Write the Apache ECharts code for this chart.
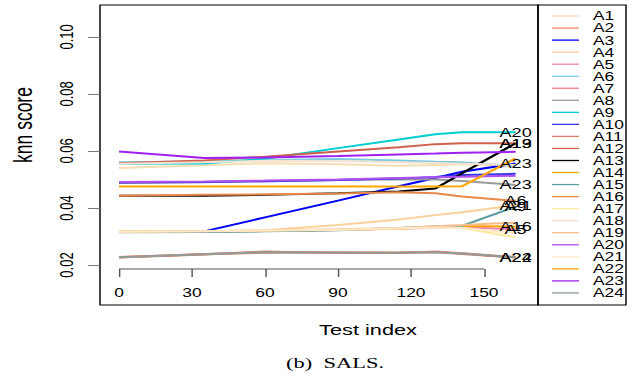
<!DOCTYPE html>
<html><head><meta charset="utf-8">
<script src="https://cdn.jsdelivr.net/npm/echarts@6/dist/echarts.min.js"></script>
<style>
html,body{margin:0;padding:0;overflow:hidden;background:#fff}
#wrap{width:634px;height:377px;overflow:hidden}
#chart{width:437.24px;height:377px;transform:scaleX(1.45);transform-origin:0 0}
</style>
</head><body><div id="wrap"><div id="chart"></div></div>
<script>
// ---- data ----
const xs = [0, 35, 60, 90, 115, 130, 141, 163];
const names = ['A1','A2','A3','A4','A5','A6','A7','A8','A9','A10','A11','A12','A13','A14','A15','A16','A17','A18','A19','A20','A21','A22','A23','A24'];
const xTicks = [0, 30, 60, 90, 120, 150];
const yTicks = [0.02, 0.04, 0.06, 0.08, 0.10];

const A1  = [0.0540, 0.0550, 0.0557, 0.0553, 0.0548, 0.0551, 0.0553, 0.0549];
const A2  = [0.0227, 0.0238, 0.0243, 0.0245, 0.0244, 0.0246, 0.0240, 0.0227];
const A3  = [0.0317, 0.0318, 0.0367, 0.0426, 0.0476, 0.0505, 0.0527, 0.0556];
const A4  = [0.0317, 0.0318, 0.0322, 0.0340, 0.0360, 0.0375, 0.0385, 0.0410];
const A5  = [0.0316, 0.0317, 0.0319, 0.0323, 0.0327, 0.0331, 0.0333, 0.0325];
const A6  = [0.0560, 0.0563, 0.0568, 0.0572, 0.0567, 0.0562, 0.0560, 0.0548];
const A7  = [0.0228, 0.0239, 0.0246, 0.0243, 0.0242, 0.0247, 0.0241, 0.0228];
const A8  = [0.0488, 0.0490, 0.0494, 0.0498, 0.0501, 0.0500, 0.0495, 0.0481];
const A9  = [0.0555, 0.0556, 0.0573, 0.0610, 0.0640, 0.0659, 0.0666, 0.0666];
const A10 = [0.0489, 0.0491, 0.0494, 0.0498, 0.0503, 0.0509, 0.0516, 0.0520];
const A11 = [0.0226, 0.0237, 0.0247, 0.0242, 0.0243, 0.0246, 0.0239, 0.0226];
const A12 = [0.0557, 0.0567, 0.0580, 0.0598, 0.0613, 0.0624, 0.0627, 0.0627];
const A13 = [0.0443, 0.0443, 0.0446, 0.0452, 0.0458, 0.0468, 0.0522, 0.0627];
const A14 = [0.0317, 0.0318, 0.0320, 0.0323, 0.0328, 0.0333, 0.0337, 0.0335];
const A15 = [0.0315, 0.0316, 0.0318, 0.0322, 0.0330, 0.0335, 0.0337, 0.0405];
const A16 = [0.0443, 0.0446, 0.0448, 0.0451, 0.0455, 0.0452, 0.0440, 0.0425];
const A17 = [0.0318, 0.0319, 0.0321, 0.0324, 0.0328, 0.0332, 0.0330, 0.0297];
const A18 = [0.0555, 0.0560, 0.0566, 0.0565, 0.0560, 0.0558, 0.0555, 0.0551];
const A19 = [0.0316, 0.0318, 0.0321, 0.0325, 0.0330, 0.0336, 0.0340, 0.0349];
const A20 = [0.0491, 0.0493, 0.0496, 0.0500, 0.0505, 0.0508, 0.0510, 0.0513];
const A21 = [0.0317, 0.0318, 0.0321, 0.0324, 0.0329, 0.0332, 0.0331, 0.0311];
const A22 = [0.0475, 0.0475, 0.0475, 0.0475, 0.0475, 0.0475, 0.0476, 0.0574];
const A23 = [0.0598, 0.0575, 0.0577, 0.0582, 0.0588, 0.0591, 0.0594, 0.0597];
const A24 = [0.0227, 0.0238, 0.0245, 0.0244, 0.0243, 0.0245, 0.0240, 0.0227];
const values = [A1,A2,A3,A4,A5,A6,A7,A8,A9,A10,A11,A12,A13,A14,A15,A16,A17,A18,A19,A20,A21,A22,A23,A24];

// text written at the end of some lines in the original figure
const endTags = ['', 'A22', 'A23', 'A21', 'A5', '', '', 'A23', 'A20', '', '', 'A19', 'A13', 'A16', 'A9', 'A6', '', '', '', '', '', '', '', 'A24'];

const colors = ['#F5DEB3','#F4846A','#0000FF','#F9D29C','#EE82B0','#7CC8E0','#F08080','#9A9A9A','#00CED1','#3535E5','#E07A6A','#D0604E','#000000','#FFA500','#5F9EA0','#E8894A','#FFE9A0','#F3E3D0','#F5BE8C','#B050F0','#FFE8C8','#FFA500','#A020F0','#8F9D97'];

// ---- layout (figure is horizontally stretched) ----
const S = 1.45;
const W = 634 / S;
const X = px => px / S;
const FONT = 'Liberation Sans';

const chart = echarts.init(document.getElementById('chart'), null, {renderer: 'svg', width: W, height: 377});

const series = names.map((n, i) => ({
  name: n,
  type: 'line',
  data: xs.map((x, j) => [x, values[i][j]]),
  symbol: 'none',
  showSymbol: false,
  lineStyle: {width: 2, color: colors[i]},
  itemStyle: {color: colors[i]},
  emphasis: {disabled: true},
  endLabel: {
    show: endTags[i] !== '',
    formatter: () => endTags[i],
    color: '#000', fontSize: 12.5, fontFamily: FONT,
    align: 'center', verticalAlign: 'middle', distance: 0
  }
}));

chart.setOption({
  animation: false,
  grid: {left: X(100), right: W - X(538), top: 5, bottom: 108},
  xAxis: {
    type: 'value', min: -7.81, max: 172.2,
    axisLine: {show: false, onZero: false},
    axisTick: {show: true, customValues: xTicks, length: 8, lineStyle: {color: '#555'}},
    axisLabel: {customValues: xTicks, margin: 18, fontSize: 12, color: '#000', fontFamily: FONT},
    splitLine: {show: false}
  },
  yAxis: {
    type: 'value', min: 0.0186, max: 0.1112,
    axisLine: {show: false, onZero: false},
    axisTick: {show: true, customValues: yTicks, length: X(12), lineStyle: {color: '#777'}},
    axisLabel: {customValues: yTicks, rotate: 90, margin: 17, fontSize: 13, color: '#000', fontFamily: FONT,
      formatter: v => v.toFixed(2)},
    splitLine: {show: false}
  },
  legend: {
    orient: 'vertical', left: X(552), top: 10, padding: 0,
    itemWidth: X(27), itemHeight: 1.3, itemGap: 0, icon: 'rect',
    selectedMode: false,
    textStyle: {fontSize: 12, fontFamily: FONT, color: '#000', lineHeight: 12.04, padding: [0, 0, 0, X(14) - 5]},
    data: names
  },
  series: series
});

const p0 = chart.convertToPixel({xAxisIndex: 0}, xTicks[0]);
const p1 = chart.convertToPixel({xAxisIndex: 0}, xTicks[xTicks.length - 1]);
const yAx = chart.convertToPixel({yAxisIndex: 0}, 0.0186);

chart.setOption({
  graphic: [
    {type: 'line', shape: {x1: p0, y1: yAx, x2: p1, y2: yAx}, style: {stroke: '#555', lineWidth: 1}},
    {type: 'rect', shape: {x: X(100), y: 5, width: X(538) - X(100), height: 300}, style: {fill: 'none', stroke: '#000', lineWidth: 1}},
    {type: 'rect', shape: {x: X(538), y: 5, width: X(626) - X(538), height: 300}, style: {fill: 'none', stroke: '#000', lineWidth: 1}},
    {type: 'text', x: X(23), y: 125, rotation: Math.PI / 2,
      style: {text: 'knn score', fontSize: 17.5, fontFamily: FONT, fill: '#000', align: 'center', verticalAlign: 'middle'}},
    {type: 'text', x: X(368), y: 330,
      style: {text: 'Test index', fontSize: 15, fontFamily: FONT, fill: '#000', align: 'center', verticalAlign: 'middle'}},
    {type: 'text', x: X(335), y: 363,
      style: {text: '(b)\u00a0 SALS.', fontSize: 15.5, fontFamily: 'Liberation Serif', fill: '#000', align: 'center', verticalAlign: 'middle'}}
  ]
});
</script>
</body></html>
